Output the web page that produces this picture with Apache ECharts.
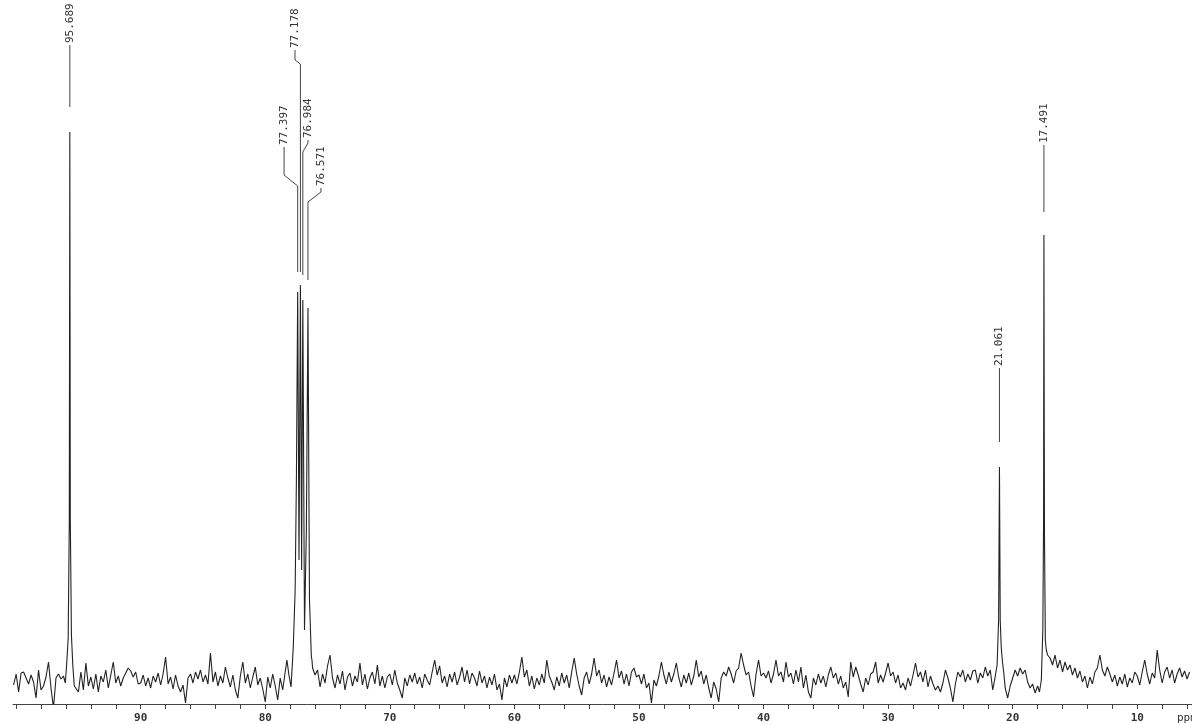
<!DOCTYPE html>
<html>
<head>
<meta charset="utf-8">
<script src="https://cdn.jsdelivr.net/npm/echarts@6/dist/echarts.min.js"></script>
<style>
html,body{margin:0;padding:0;background:#fff;}
#chart{width:1192px;height:724px;}
</style>
</head>
<body>
<div id="chart"></div>
<script>
// ---- DATA ----
// x tick labels (ppm)
const tickLabels = [90, 80, 70, 60, 50, 40, 30, 20, 10];
const minorTicks = [100, 98, 96, 94, 92, 90, 88, 86, 84, 82, 80, 78, 76, 74, 72, 70, 68, 66, 64, 62, 60,
  58, 56, 54, 52, 50, 48, 46, 44, 42, 40, 38, 36, 34, 32, 30, 28, 26, 24, 22, 20, 18, 16, 14, 12, 10, 8, 6];
const axisUnit = 'ppm';
// peak picks
const peakPpm = [95.689, 77.397, 77.178, 76.984, 76.571, 21.061, 17.491];
const peakText = ['95.689', '77.397', '77.178', '76.984', '76.571', '21.061', '17.491'];
// peak line shapes [ppm, intensity]
const peak95 = [[96.05,-3],[95.93,18],[95.82,42],[95.73,160],[95.689,548],[95.65,160],[95.56,45],[95.45,15],[95.33,-6]];
const peak77 = [[78.26,20],[78.1,5],[77.93,-7],[77.75,33],[77.6,90],[77.5,200],[77.397,388],[77.29,120],[77.178,395],[77.08,110],[76.984,380],[76.85,50],[76.7,150],[76.571,372],[76.45,80],[76.3,23],[76.25,20]];
const peak21 = [[21.45,0],[21.25,15],[21.13,60],[21.061,213],[21.0,60],[20.92,33],[20.82,18],[20.72,8]];
const peak17 = [[17.85,-12],[17.7,0],[17.58,50],[17.52,160],[17.491,445],[17.45,150],[17.38,40],[17.3,30],[17.2,25]];
// baseline noise, 0.2 ppm steps, each block starting at noiseStart[k]
const noiseStart = [100.2, 90.0, 80.0, 70.0, 60.0, 50.0, 40.0, 30.0, 20.0, 10.0];
const noise100 = [-5,6,-12,7,8,2,-4,5,-2,-18,10,-10,-6,3,18,-8,-28,2,6,1,4,0,0,0,0,
  -4,-12,8,-10,17,-6,3,-9,6,-12,4,-2,10,-8,5,18,-3,4,-6,2,7,12,9,3,8,-4];
const noise90 = [-3,5,-6,2,-8,4,-2,7,-5,6, 23,-4,3,-9,5,-6,-12,-5,-23,2,
  6,-3,8,1,10,-2,5,-4,27,-2, 8,-6,4,-3,13,2,-7,5,-10,-18, 4,18,-3,6,-8,3,13,-5,2,-9];
const noise80 = [-22,3,-8,6,-6,-20,2,-10,8,0, 0,0,0,0,0,0,0,0,0,
  12,5,10,-7,6,-3,14,25,2,-8, 5,-4,9,-10,3,7,-6,4,-2,17, -5,6,-9,2,8,-4,15,-6,4,-8,3];
const noise70 = [6,-5,10,-3,-10,-18,2,-6,5,-2, 7,-4,3,-8,6,0,-5,8,20,5,
  14,-3,4,-7,6,-2,8,-5,3,13, -2,10,-4,7,2,-6,9,-3,4,-8, 3,-5,6,-10,-4,-20,2,-7,5,-3];
const noise60 = [5,-4,8,23,3,10,-6,4,-9,2, -5,6,-3,20,4,-2,-10,3,-6,7,
  -3,5,-8,8,22,6,-6,-15,2,8, -4,6,22,4,10,-3,5,-7,3,-5, 7,20,2,9,-4,6,-6,8,12,3];
const noise50 = [5,-4,6,-8,-3,-23,0,-6,4,18, 5,-4,8,-2,6,17,2,-7,5,-3,
  7,-5,4,20,3,9,-4,5,-8,-18, -2,-9,-22,2,8,4,13,6,-3,9, 12,27,15,5,8,-6,-17,6,20,4];
const noise40 = [7,2,9,-3,6,20,4,8,-2,18, 3,7,-4,10,-2,13,-8,5,-12,-18,
  2,-5,6,-3,4,-7,5,13,2,7, -4,4,-8,-2,-17,18,3,13,5,-4, -12,2,-5,6,8,18,-3,5,-2,7];
const noise30 = [17,4,8,-3,5,-8,-3,-10,2,-6, 5,17,3,8,-2,10,-7,4,-4,-10,
  -6,-12,-3,10,2,-8,-22,-4,8,3, 10,-2,6,0,9,10,-3,7,2,13, 4,10,-10,0,0,0,0,-8,-18,-6];
const noise20 = [2,10,4,12,6,10,-2,-8,-4,-13, -6,0,0,0,0,22,15,25,12,20,
  8,18,10,15,5,12,2,9,-2,4, -8,3,-4,8,12,25,10,4,13,6, -2,5,-6,3,-4,6,-7,2,-3,8];
const noise10 = [4,-5,8,20,6,-4,7,2,30,10, -3,8,13,2,10,-3,6,12,3,9,1,8];

// ---- LAYOUT (label leaders, in axis units) ----
const labelPpm   = [95.689, 78.49, 77.61, 76.57, 75.53, 21.061, 17.491];
const textBottom = [635, 533, 630, 540, 492, 312, 535];
const bendTop    = [635, 505, 620, 537, 488, 312, 535];
const bendLow    = [635, 494, 616, 528, 478, 312, 535];
const leaderEnd  = [573, 408, 408, 405, 400, 238, 468];

// ---- BUILD SERIES ----
const noiseBlocks = [noise100, noise90, noise80, noise70, noise60, noise50, noise40, noise30, noise20, noise10];
const peaks = [peak95, peak77, peak21, peak17];
const ranges = peaks.map(p => [Math.min(...p.map(d => d[0])) - 0.001, Math.max(...p.map(d => d[0])) + 0.001]);
let spectrum = [];
noiseBlocks.forEach((blk, k) => {
  blk.forEach((v, i) => {
    const x = +(noiseStart[k] - 0.2 * i).toFixed(3);
    if (!ranges.some(r => x >= r[0] && x <= r[1])) spectrum.push([x, v]);
  });
});
peaks.forEach(p => p.forEach(d => spectrum.push(d)));
spectrum.sort((a, b) => b[0] - a[0]);

const annData = peakPpm.map((p, i) => [p, leaderEnd[i], i]);

const chart = echarts.init(document.getElementById('chart'), null, {renderer: 'canvas'});
const mono = '"DejaVu Sans Mono", "Liberation Mono", monospace';
chart.setOption({
  animation: false,
  backgroundColor: '#ffffff',
  grid: {left: 13, right: 0, top: 0, bottom: 20, containLabel: false, outerBoundsMode: 'none'},
  xAxis: {
    type: 'value', inverse: true, min: 5.605, max: 100.25,
    axisLine: {show: true, onZero: false, lineStyle: {color: '#444', width: 1}},
    axisTick: {show: true, length: 5, customValues: minorTicks, lineStyle: {color: '#444'}},
    axisLabel: {
      show: true, margin: 9, color: '#333', fontFamily: mono, fontSize: 11, fontWeight: 'bold',
      customValues: tickLabels,
      formatter: v => String(v)
    },
    splitLine: {show: false}
  },
  yAxis: {type: 'value', min: -24, max: 680, show: false, splitLine: {show: false}},
  graphic: [{
    type: 'text', left: 1177, top: 713,
    style: {text: axisUnit, fill: '#333', font: '11px ' + mono}
  }],
  series: [
    {
      type: 'line', data: spectrum, showSymbol: false, symbol: 'none',
      lineStyle: {color: '#222', width: 1.1}, clip: true, z: 2
    },
    {
      type: 'custom', data: annData, clip: false, z: 3,
      renderItem: function (params, api) {
        const i = api.value(2);
        const pts = [
          api.coord([labelPpm[i], textBottom[i]]),
          api.coord([labelPpm[i], bendTop[i]]),
          api.coord([peakPpm[i], bendLow[i]]),
          api.coord([peakPpm[i], leaderEnd[i]])
        ];
        return {
          type: 'group',
          children: [
            {type: 'polyline', shape: {points: pts}, style: {stroke: '#444', lineWidth: 1, fill: null}},
            {type: 'text', x: pts[0][0], y: pts[0][1] - 2, rotation: Math.PI / 2,
             style: {text: peakText[i], fill: '#333', font: '11px ' + mono, align: 'left', verticalAlign: 'middle'}}
          ]
        };
      }
    }
  ]
});
</script>
</body>
</html>
